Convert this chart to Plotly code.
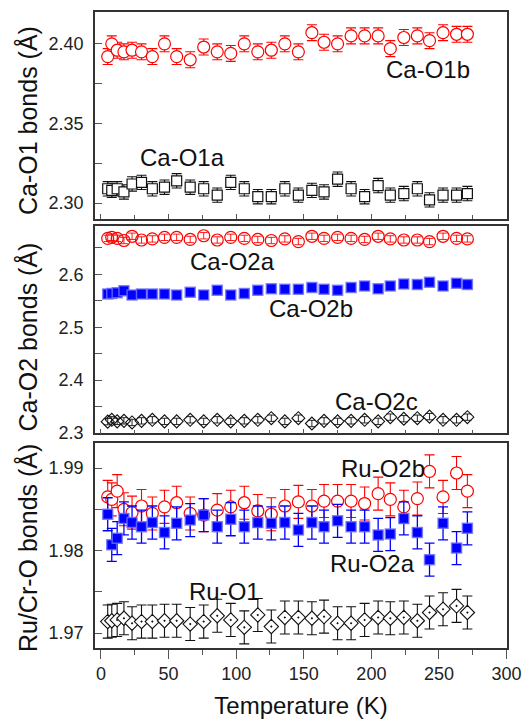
import plotly.graph_objects as go

# Temperatures (K)
T = [5, 8, 12, 17, 23, 30, 38, 47, 56, 66, 76, 86, 96, 106, 116, 126, 136, 146,
     156, 165, 175, 185, 195, 205, 214, 224, 234, 243, 253, 263, 271]

# Top panel: Ca-O1 bonds
ca_o1b = [2.392, 2.400, 2.396, 2.395, 2.396, 2.395, 2.392, 2.400, 2.392, 2.390,
          2.398, 2.395, 2.394, 2.400, 2.395, 2.396, 2.400, 2.395, 2.407, 2.401,
          2.400, 2.405, 2.405, 2.405, 2.397, 2.404, 2.405, 2.402, 2.407, 2.406, 2.406]
ca_o1b_err = 0.005
ca_o1a = [2.309, 2.308, 2.309, 2.307, 2.312, 2.313, 2.309, 2.310, 2.314, 2.310,
          2.309, 2.305, 2.313, 2.309, 2.304, 2.304, 2.309, 2.305, 2.308, 2.307,
          2.315, 2.309, 2.304, 2.311, 2.305, 2.306, 2.309, 2.302, 2.305, 2.305, 2.306]
ca_o1a_err = 0.0045

# Middle panel: Ca-O2 bonds
ca_o2a = [2.668, 2.670, 2.668, 2.664, 2.672, 2.665, 2.667, 2.670, 2.670, 2.666,
          2.673, 2.665, 2.670, 2.668, 2.666, 2.664, 2.667, 2.662, 2.672, 2.668,
          2.670, 2.668, 2.666, 2.672, 2.667, 2.665, 2.665, 2.662, 2.672, 2.668, 2.667]
ca_o2a_err = 0.006
ca_o2b = [2.563, 2.564, 2.565, 2.569, 2.561, 2.563, 2.563, 2.563, 2.561, 2.566,
          2.561, 2.570, 2.561, 2.564, 2.570, 2.573, 2.572, 2.572, 2.575, 2.572,
          2.570, 2.575, 2.578, 2.573, 2.578, 2.582, 2.581, 2.585, 2.578, 2.583, 2.581]
ca_o2c = [2.3215, 2.325, 2.322, 2.323, 2.320, 2.323, 2.325, 2.322, 2.322, 2.325,
          2.322, 2.325, 2.322, 2.323, 2.325, 2.328, 2.322, 2.328, 2.318, 2.323,
          2.322, 2.323, 2.325, 2.322, 2.330, 2.327, 2.328, 2.331, 2.325, 2.325, 2.330]
ca_o2c_err = 0.006

# Bottom panel: Ru/Cr-O bonds
ru_o2b = [1.9865, 1.9862, 1.9872, 1.9850, 1.9846, 1.9854, 1.9845, 1.9853, 1.9858, 1.9845,
          1.9843, 1.9849, 1.9853, 1.9858, 1.9848, 1.9844, 1.9854, 1.9859, 1.9854, 1.9860,
          1.9860, 1.9860, 1.9857, 1.9869, 1.9862, 1.9853, 1.9863, 1.9896, 1.9865, 1.9894, 1.9872]
ru_o2a = [1.9844, 1.9807, 1.9815, 1.9839, 1.9834, 1.9829, 1.9834, 1.9822, 1.9833, 1.9837,
          1.9843, 1.9829, 1.9838, 1.9829, 1.9834, 1.9833, 1.9834, 1.9825, 1.9834, 1.9829,
          1.9836, 1.9829, 1.9829, 1.9819, 1.9820, 1.9839, 1.9822, 1.9789, 1.9833, 1.9803, 1.9827]
ru_o1 = [1.9714, 1.9715, 1.9716, 1.9718, 1.9712, 1.9714, 1.9714, 1.9715, 1.9715, 1.9711,
         1.9714, 1.9721, 1.9716, 1.9707, 1.9722, 1.9708, 1.9719, 1.9719, 1.9718, 1.9720,
         1.9712, 1.9712, 1.9716, 1.9719, 1.9718, 1.9719, 1.9715, 1.9725, 1.9729, 1.9733, 1.9725]
ru_err = 0.002

x_ticks = [0, 50, 100, 150, 200, 250, 300]

RED = "#ff0000"
BLUE = "#0000ff"
BLK = "#111111"
FONT = "Liberation Sans, Arial, sans-serif"

fig = go.Figure()

def err(v, color, w=5, th=1.1):
    return dict(type="constant", value=v, color=color, width=w, thickness=th)

# top panel (x3/y3)
fig.add_trace(go.Scatter(x=T, y=ca_o1b, mode="markers", xaxis="x3", yaxis="y3",
    marker=dict(symbol="circle", size=12, color="white", line=dict(color=RED, width=1.2)),
    error_y=err(ca_o1b_err, RED)))
fig.add_trace(go.Scatter(x=T, y=ca_o1a, mode="markers", xaxis="x3", yaxis="y3",
    marker=dict(symbol="square", size=10, color="white", line=dict(color=BLK, width=1.2)),
    error_y=err(ca_o1a_err, BLK)))

# middle panel (x2/y2)
fig.add_trace(go.Scatter(x=T, y=ca_o2a, mode="markers", xaxis="x2", yaxis="y2",
    marker=dict(symbol="circle-open", size=12, color=RED, line=dict(width=1.2)),
    error_y=err(ca_o2a_err, RED, w=4, th=0.9)))
fig.add_trace(go.Scatter(x=T, y=ca_o2b, mode="markers", xaxis="x2", yaxis="y2",
    marker=dict(symbol="square", size=10, color=BLUE, line=dict(color="rgba(110,110,255,0.8)", width=1.5))))
fig.add_trace(go.Scatter(x=T, y=ca_o2c, mode="markers", xaxis="x2", yaxis="y2",
    marker=dict(symbol="diamond-open", size=10, color=BLK, line=dict(width=1.1)),
    error_y=err(ca_o2c_err, BLK, w=4, th=0.9)))

# bottom panel (x/y)
fig.add_trace(go.Scatter(x=T, y=ru_o2b, mode="markers",
    marker=dict(symbol="circle", size=12, color="white", line=dict(color=RED, width=1.2)),
    error_y=err(ru_err, RED)))
fig.add_trace(go.Scatter(x=T, y=ru_o2a, mode="markers",
    marker=dict(symbol="square", size=10, color=BLUE, line=dict(color="rgba(110,110,255,0.8)", width=1.5)),
    error_y=err(ru_err, BLUE, th=1.3)))
fig.add_trace(go.Scatter(x=T, y=ru_o1, mode="markers",
    marker=dict(symbol="diamond-dot", size=11, color="white", line=dict(color=BLK, width=1.1)),
    error_y=err(ru_err, BLK)))

frame = dict(showline=True, linecolor="#333333", linewidth=1.5, mirror=True,
             showgrid=False, zeroline=False, automargin=False)
tickfont = dict(family=FONT, size=18, color="#222222")
xr = [-4.4, 300.3]

xtop = dict(frame, range=xr, ticks="inside", ticklen=5, tickcolor="#555555",
            tickvals=x_ticks, showticklabels=False,
            minor=dict(dtick=25, tick0=0, ticks="inside", ticklen=4, tickcolor="#555555"))

layout = dict(
    width=523, height=723,
    margin=dict(l=95, r=16, t=12, b=75),
    paper_bgcolor="white", plot_bgcolor="white",
    showlegend=False,
    xaxis=dict(frame, range=xr, domain=[0, 1], anchor="y",
               tickvals=x_ticks, ticks="outside", ticklen=9, tickcolor="#555555",
               tickfont=tickfont,
               minor=dict(dtick=25, tick0=0, ticks="outside", ticklen=5, tickcolor="#555555"),
               title=dict(text="Temperature (K)", font=dict(family=FONT, size=24, color="#111111"),
                          standoff=14)),
    xaxis2=dict(xtop, anchor="y2", matches="x"),
    xaxis3=dict(xtop, anchor="y3", matches="x"),
    yaxis=dict(frame, domain=[0, 0.3219], anchor="x", range=[1.9682, 1.9930],
               tickvals=[1.97, 1.98, 1.99], ticktext=["1.97", "1.98", "1.99"],
               ticks="inside", ticklen=7, tickcolor="#555555", tickfont=tickfont,
               ticklabelstandoff=6,
               minor=dict(tickvals=[1.975, 1.985], ticks="inside", ticklen=7, tickcolor="#555555")),
    yaxis2=dict(frame, domain=[0.3376, 0.664], anchor="x2", range=[2.2995, 2.692],
                tickvals=[2.3, 2.4, 2.5, 2.6], ticktext=["2.3", "2.4", "2.5", "2.6"],
                ticks="inside", ticklen=7, tickcolor="#555555", tickfont=tickfont,
                ticklabelstandoff=6,
                minor=dict(tickvals=[2.35, 2.45, 2.55, 2.65], ticks="inside", ticklen=7, tickcolor="#555555")),
    yaxis3=dict(frame, domain=[0.6745, 1], anchor="x3", range=[2.290, 2.420],
                tickvals=[2.30, 2.35, 2.40], ticktext=["2.30", "2.35", "2.40"],
                ticks="inside", ticklen=7, tickcolor="#555555", tickfont=tickfont,
                ticklabelstandoff=6,
                minor=dict(tickvals=[2.325, 2.375], ticks="inside", ticklen=7, tickcolor="#555555")),
)
fig.update_layout(**layout)

afont = dict(family=FONT, size=24, color="#111111")
labels = [
    ("Ca-O1b", 241.8, 2.3837, "x3", "y3"),
    ("Ca-O1a", 60.6, 2.3285, "x3", "y3"),
    ("Ca-O2a", 97.2, 2.6238, "x2", "y2"),
    ("Ca-O2b", 155.0, 2.5345, "x2", "y2"),
    ("Ca-O2c", 203.9, 2.359, "x2", "y2"),
    ("Ru-O2b", 208.8, 1.9900, "x", "y"),
    ("Ru-O2a", 200.8, 1.9784, "x", "y"),
    ("Ru-O1", 91.3, 1.9751, "x", "y"),
]
for txt, x, y, xr_, yr_ in labels:
    fig.add_annotation(text=txt, x=x, y=y, xref=xr_, yref=yr_, showarrow=False,
                       xanchor="center", yanchor="middle", font=afont)

ytfont = dict(family=FONT, size=25, color="#111111")
ytitles = [("Ca-O1 bonds (Å)", 0.8286), ("Ca-O2 bonds (Å)", 0.4882), ("Ru/Cr-O bonds (Å)", 0.1572)]
for txt, yy in ytitles:
    fig.add_annotation(text=txt, x=-0.165, y=yy, xref="paper", yref="paper",
                       showarrow=False, textangle=-90, xanchor="center", yanchor="middle",
                       font=ytfont)

fig.write_html("out.html")
